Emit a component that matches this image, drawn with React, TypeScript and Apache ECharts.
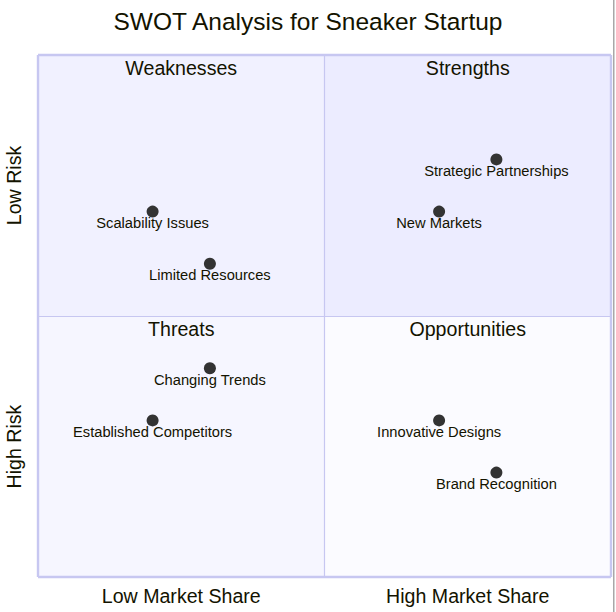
import React, { useEffect, useRef } from "react";
import * as echarts from "echarts";

const titleText = "SWOT Analysis for Sneaker Startup";
const xCategories = ["Low Market Share", "High Market Share"];
const yCategories = ["High Risk", "Low Risk"];

const quadrantNames = ["Strengths", "Weaknesses", "Threats", "Opportunities"];
const quadrantXStart = [0.5, 0, 0, 0.5];
const quadrantXEnd = [1, 0.5, 0.5, 1];
const quadrantYStart = [0.5, 0.5, 0, 0];
const quadrantYEnd = [1, 1, 0.5, 0.5];
const quadrantColors = ["#ECECFF", "#F1F1FF", "#F6F6FF", "#FBFBFF"];

const pointNames = [
  "Strategic Partnerships",
  "New Markets",
  "Scalability Issues",
  "Limited Resources",
  "Changing Trends",
  "Established Competitors",
  "Innovative Designs",
  "Brand Recognition",
];
const xValues = [0.8, 0.7, 0.2, 0.3, 0.3, 0.2, 0.7, 0.8];
const yValues = [0.8, 0.7, 0.7, 0.6, 0.4, 0.3, 0.3, 0.2];

const FONT = "'Liberation Sans', Arial, Helvetica, sans-serif";
const TEXT = "#131300";
const BORDER = "#C7C7F1";

export default function App() {
  const ref = useRef<HTMLDivElement>(null);
  useEffect(() => {
    if (!ref.current) return;
    const chart = echarts.init(ref.current, undefined, { renderer: "svg" });
    const grid = { left: 38, top: 55, width: 573, height: 522 };
    chart.setOption({
      animation: false,
      backgroundColor: "#ffffff",
      textStyle: { fontFamily: FONT },
      grid: { ...grid, show: false },
      graphic: [
        {
          type: "text",
          x: 308,
          y: 21,
          style: {
            text: titleText,
            fontSize: 24.5,
            fontFamily: FONT,
            fill: TEXT,
            align: "center",
            verticalAlign: "middle",
          },
        },
        {
          type: "rect",
          shape: { x: 613, y: 0, width: 1.5, height: 612 },
          style: { fill: "#a8a8a8" },
        },
      ],
      xAxis: [
        { type: "value", min: 0, max: 1, show: false },
        {
          type: "category",
          data: xCategories,
          position: "bottom",
          axisLine: { show: false },
          axisTick: { show: false },
          splitLine: { show: false },
          axisLabel: { fontSize: 19.6, color: TEXT, fontFamily: FONT, margin: 9 },
        },
      ],
      yAxis: [
        { type: "value", min: 0, max: 1, show: false },
        {
          type: "category",
          data: yCategories,
          position: "left",
          axisLine: { show: false },
          axisTick: { show: false },
          splitLine: { show: false },
          axisLabel: { fontSize: 19.6, color: TEXT, fontFamily: FONT, rotate: 90, margin: 14 },
        },
      ],
      series: [
        {
          type: "scatter",
          xAxisIndex: 0,
          yAxisIndex: 0,
          z: 1,
          data: [],
          silent: true,
          markArea: {
            silent: true,
            data: quadrantNames.map((name, i) => [
              {
                name,
                xAxis: quadrantXStart[i],
                yAxis: quadrantYEnd[i],
                itemStyle: { color: quadrantColors[i], opacity: 1 },
              },
              { xAxis: quadrantXEnd[i], yAxis: quadrantYStart[i] },
            ]),
            label: {
              show: true,
              position: "insideTop",
              distance: 3,
              fontSize: 19.6,
              color: TEXT,
              fontFamily: FONT,
            },
          },
        },
        {
          type: "scatter",
          xAxisIndex: 0,
          yAxisIndex: 0,
          z: 2,
          data: [],
          silent: true,
          markLine: {
            silent: true,
            symbol: "none",
            label: { show: false },
            lineStyle: { type: "solid", color: BORDER, width: 1.2 },
            data: [
              { xAxis: 0.5 },
              { yAxis: 0.5 },
              { xAxis: 0, lineStyle: { width: 2.4, color: BORDER, type: "solid" } },
              { xAxis: 1, lineStyle: { width: 2.4, color: BORDER, type: "solid" } },
              { yAxis: 0, lineStyle: { width: 2.4, color: BORDER, type: "solid" } },
              { yAxis: 1, lineStyle: { width: 2.4, color: BORDER, type: "solid" } },
            ],
          },
        },
        {
          type: "scatter",
          xAxisIndex: 0,
          yAxisIndex: 0,
          z: 3,
          symbolSize: 12,
          itemStyle: { color: "#333333", opacity: 1 },
          label: {
            show: true,
            position: "bottom",
            distance: -2,
            formatter: (p: any) => p.name,
            fontSize: 14.7,
            color: TEXT,
            fontFamily: FONT,
          },
          data: pointNames.map((name, i) => ({ name, value: [xValues[i], yValues[i]] })),
        },
      ],
    });
    return () => chart.dispose();
  }, []);
  return (
    <div
      ref={ref}
      style={{ position: "fixed", left: 0, top: 0, width: 616, height: 612 }}
    />
  );
}
